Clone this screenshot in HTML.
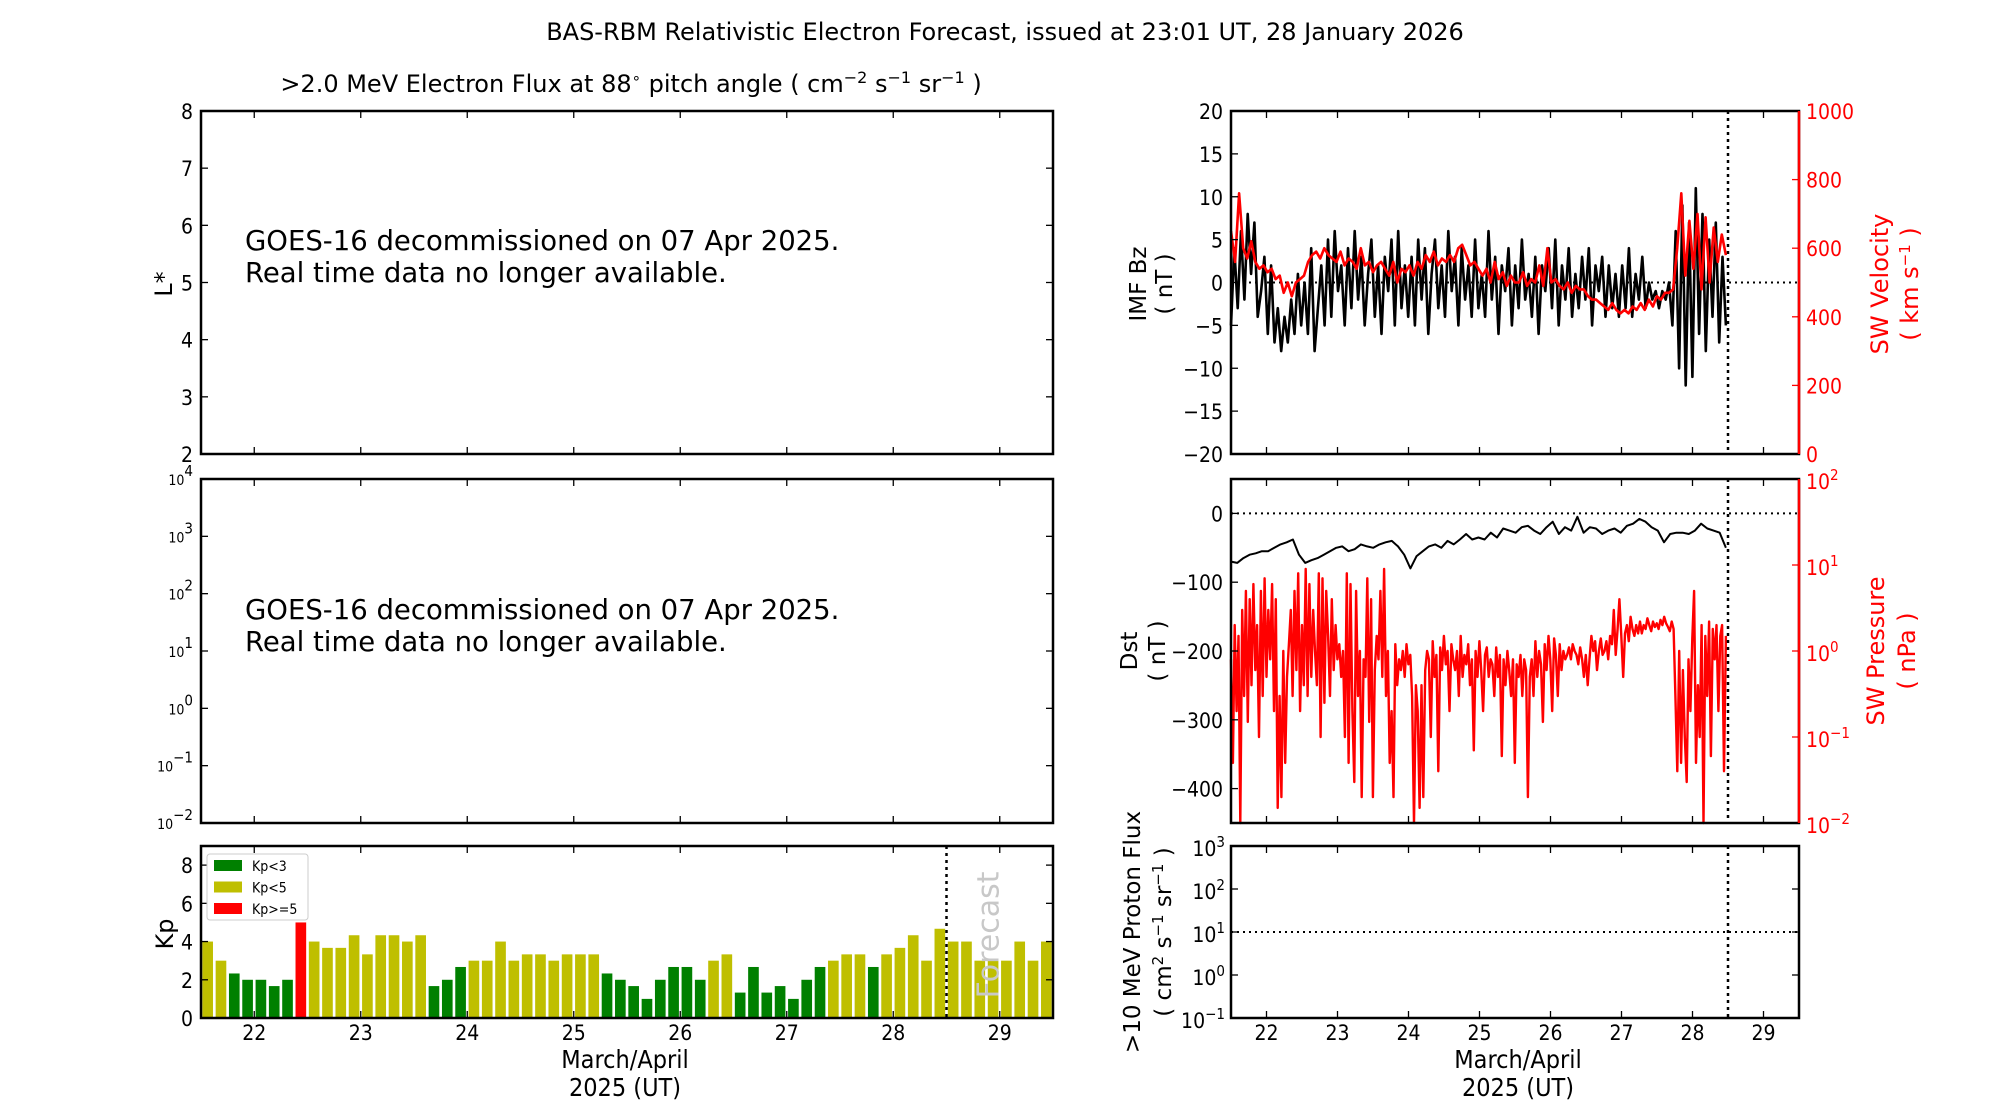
<!DOCTYPE html>
<html><head><meta charset="utf-8">
<style>
html,body{margin:0;padding:0;background:#fff;}
svg{display:block;}
.t{font-family:"DejaVu Sans","Liberation Sans",sans-serif;}
.n{font-family:"Liberation Sans Narrow","DejaVu Sans Condensed","Liberation Sans",sans-serif;font-size:21px;}
</style></head>
<body>
<svg id="fig" width="2000" height="1100" viewBox="0 0 2000 1100" xmlns="http://www.w3.org/2000/svg">
<text class="t" x="1005" y="40" font-size="24" text-anchor="middle">BAS-RBM Relativistic Electron Forecast, issued at 23:01 UT, 28 January 2026</text>
<text class="t" x="631" y="92" font-size="24" text-anchor="middle">&gt;2.0 MeV Electron Flux at 88<tspan dy="-9" font-size="15">∘</tspan><tspan dy="9"> pitch angle ( cm</tspan><tspan dy="-9" font-size="16">−2</tspan><tspan dy="9"> s</tspan><tspan dy="-9" font-size="16">−1</tspan><tspan dy="9"> sr</tspan><tspan dy="-9" font-size="16">−1</tspan><tspan dy="9">  )</tspan></text>

<g id="lstar">
<text class="t" x="245" y="250" font-size="27.5">GOES-16 decommissioned on 07 Apr 2025.</text>
<text class="t" x="245" y="282" font-size="27.5">Real time data no longer available.</text>
<text class="t" transform="translate(172,284) rotate(-90)" font-size="24" text-anchor="middle">L*</text>
</g>
<g id="flux">
<text class="t" x="245" y="619" font-size="27.5">GOES-16 decommissioned on 07 Apr 2025.</text>
<text class="t" x="245" y="651" font-size="27.5">Real time data no longer available.</text>
</g>
<g id="kp">
<text class="t" transform="translate(173,934) rotate(-90)" font-size="24" text-anchor="middle">Kp</text>
</g>
<text class="n" x="625" y="1068" text-anchor="middle" style="font-size:25px">March/April</text>
<text class="n" x="625" y="1096" text-anchor="middle" style="font-size:25px">2025 (UT)</text>
<text class="n" x="1518" y="1068" text-anchor="middle" style="font-size:25px">March/April</text>
<text class="n" x="1518" y="1096" text-anchor="middle" style="font-size:25px">2025 (UT)</text>

<text class="t" transform="translate(1146,284) rotate(-90)" font-size="23" text-anchor="middle">IMF Bz</text>
<text class="t" transform="translate(1172,284) rotate(-90)" font-size="23" text-anchor="middle">( nT )</text>
<text class="t" transform="translate(1888,284) rotate(-90)" font-size="24" text-anchor="middle" fill="#ff0000">SW Velocity</text>
<text class="t" transform="translate(1918,284) rotate(-90)" font-size="24" text-anchor="middle" fill="#ff0000">( km s<tspan dy="-8" font-size="15">−1</tspan><tspan dy="8"> )</tspan></text>
<text class="t" transform="translate(1137,651) rotate(-90)" font-size="23" text-anchor="middle">Dst</text>
<text class="t" transform="translate(1165,651) rotate(-90)" font-size="23" text-anchor="middle">( nT )</text>
<text class="t" transform="translate(1884,651) rotate(-90)" font-size="24" text-anchor="middle" fill="#ff0000">SW Pressure</text>
<text class="t" transform="translate(1915,651) rotate(-90)" font-size="24" text-anchor="middle" fill="#ff0000">( nPa )</text>
<text class="t" transform="translate(1140,932) rotate(-90)" font-size="23" text-anchor="middle">&gt;10 MeV Proton Flux</text>
<text class="t" transform="translate(1171,932) rotate(-90)" font-size="23" text-anchor="middle">( cm<tspan dy="-8" font-size="15">2</tspan><tspan dy="8"> s</tspan><tspan dy="-8" font-size="15">−1</tspan><tspan dy="8"> sr</tspan><tspan dy="-8" font-size="15">−1</tspan><tspan dy="8"> )</tspan></text>
<g id="marks"></g>
</svg>
<script>
// ---- data ----
const days = [22,23,24,25,26,27,28,29];
const kpValues = [4,3,2.33,2,2,1.67,2,5,4,3.67,3.67,4.33,3.33,4.33,4.33,4,4.33,1.67,2,2.67,3,3,4,3,3.33,3.33,3,3.33,3.33,3.33,2.33,2,1.67,1,2,2.67,2.67,2,3,3.33,1.33,2.67,1.33,1.67,1,2,2.67,3,3.33,3.33,2.67,3.33,3.67,4.33,3,4.67,4,4,3,3,3,4,3,4];
const kpTicks = [0,2,4,6,8];
const lstarTicks = [2,3,4,5,6,7,8];
const fluxExps = [-2,-1,0,1,2,3,4];
const bzTicks = [-20,-15,-10,-5,0,5,10,15,20];
const velTicks = [0,200,400,600,800,1000];
const dstTicks = [-400,-300,-200,-100,0];
const presExps = [-2,-1,0,1,2];
const protonExps = [-1,0,1,2,3];
const dataStart = 21.5, dataEnd = 28.47, nowcast = 28.5;
const bzValues = [-5,4,-3,6,-2,8,1,7,-4,
 -1,3,-6,2,-7,-3,-8,-4,-7,-2,-6,1,-5,
 0,-6,4,-8,-3,2,-5,5,-4,6,-1,
 2,-5,4,-3,6,-2,3,-5,1,5,-4,2,-6,3,-1,5,-5,6,-3,2,-4,
 3,-5,5,-2,4,-6,1,5,-3,2,-4,6,-1,3,-5,4,-2,2,-4,5,-3,
 1,-4,6,-2,3,-6,2,-1,4,-5,2,-3,5,-2,1,-4,3,-6,2,-1,4,
 -3,5,-5,2,-2,4,-4,1,-3,3,-2,4,-5,2,-1,3,-4,2,-3,1,-4,
 2,-3,4,-4,1,-2,3,-3,0,-2,-1,-3,-1,-2,0,
 -5,6,-10,9,-12,7,-11,11,-6,
 8,-8,5,-4,7,-7,3,-5];
const velValues = [650,560,760,600,570,620,560,540,550,
 530,540,510,520,470,500,460,500,510,
 520,560,580,590,570,600,580,570,560,
 590,550,570,560,540,600,550,560,530,550,560,540,520,560,500,540,530,
 550,520,560,540,580,560,590,550,570,
 560,580,560,600,610,580,550,560,540,
 520,540,500,560,510,530,490,520,500,
 500,530,490,510,500,550,490,600,500,
 510,490,480,500,470,490,480,480,460,
 450,450,440,430,420,440,420,410,420,
 410,430,420,440,420,450,430,460,450,470,470,480,
 600,760,520,680,540,700,480,
 690,500,660,560,640,580];
const dstValues = [-70,-72,-65,-60,-58,-55,-55,-50,-45,-42,-38,-60,-72,-68,-65,-60,-55,-50,-48,-55,-52,-45,-48,-50,-45,-42,-40,-48,-60,-80,-62,-55,-48,-45,-50,-40,-45,-38,-30,-38,-35,-38,-28,-35,-22,-25,-28,-20,-18,-25,-30,-20,-12,-30,-20,-25,-5,-28,-20,-22,-30,-25,-22,-28,-18,-15,-8,-12,-20,-25,-42,-30,-28,-28,-30,-25,-15,-22,-25,-28,-50];
const presValues = [0.8,0.05,2,0.2,1.5,0.01,3,0.3,5,0.15,4,0.4,6,0.6,2,0.1,5,0.3,7,0.5,
 3,0.8,6,0.2,4,0.015,0.3,0.02,1,0.05,0.5,1.2,3,0.3,5,0.6,8,0.2,2,0.4,
 9,0.3,6,0.5,3,1,0.4,8,0.1,7,0.25,5,1.5,0.3,4,0.6,2,0.8,1.2,0.5,
 1,0.1,8,0.05,6,0.2,0.03,5,0.3,1,0.02,0.8,0.5,7,0.15,4,0.02,0.6,1.5,0.8,
 5,0.5,9,0.3,1,0.05,0.2,0.02,1.2,0.4,0.8,0.6,1,0.5,1.2,0.7,0.9,0.3,0.01,0.4,
 0.2,0.015,0.4,0.02,0.6,1,0.8,0.1,1.3,0.5,0.9,0.04,1.1,0.6,1.5,0.7,1,0.2,1.2,0.8,
 0.6,1,0.3,1.5,0.5,0.9,0.7,1.2,0.4,0.8,0.07,1,0.5,1.3,0.6,0.2,0.9,1.1,0.5,0.8,
 0.7,0.3,1.1,0.5,0.9,0.06,0.8,0.4,1,0.6,0.3,0.8,0.05,0.7,0.5,0.9,0.3,0.8,0.6,0.02,
 0.5,0.8,0.3,1.3,0.5,1,0.7,0.15,1.2,0.6,1.5,0.8,0.2,1.4,0.9,0.3,1.2,0.6,1,0.8,
 0.9,1.1,0.8,1.2,1,0.9,0.7,1.1,0.8,0.5,0.9,0.4,0.8,1.5,1,1.3,0.6,1,1.4,0.9,
 1,1.3,0.8,1.5,1.2,3,0.9,1.8,4,1.5,0.5,1.6,2,1.3,2.5,1.8,1.5,2,1.6,2.2,
 1.6,2,1.8,2.4,2,1.7,2.2,1.9,2.1,1.8,2.3,2,2.5,2.1,1.9,1.7,
 2.2,1.8,0.3,0.04,1,0.05,0.6,0.1,0.03,0.8,0.2,1.4,5,0.05,0.4,0.1,
 2,0.01,1.5,0.3,2.2,0.06,1.8,0.8,2,0.2,1.5,2,0.04,1.5];

// ---- layout ----
const NS='http://www.w3.org/2000/svg';
const marks=document.getElementById('marks');
const LX0=201,LX1=1053,RX0=1231,RX1=1799;
const P1=[111,454],P2=[479,823],P3=[846,1018];
function lin(d0,d1,r0,r1){return v=>r0+(v-d0)/(d1-d0)*(r1-r0);}
function logs(e0,e1,r0,r1){return v=>r0+(Math.log10(Math.max(v,1e-9))-e0)/(e1-e0)*(r1-r0);}
const xL=lin(21.5,29.5,LX0,LX1), xR=lin(21.5,29.5,RX0,RX1);
function mk(tag,attrs){const e=document.createElementNS(NS,tag);for(const k in attrs)e.setAttribute(k,attrs[k]);marks.appendChild(e);return e;}
function tlabel(x,y,txt,anchor,color,exp){
  const e=mk('text',{x:x,y:y,'text-anchor':anchor,fill:color||'#000',class:'n'});
  
  
  if(exp===undefined){e.textContent=txt;}
  else{const a=document.createElementNS(NS,'tspan');a.textContent='10';e.appendChild(a);
    const b=document.createElementNS(NS,'tspan');b.setAttribute('dy','-9');b.setAttribute('font-size','15');b.textContent=exp<0?'−'+(-exp):String(exp);e.appendChild(b);}
  return e;
}
function tick(x1,y1,x2,y2,color){
  const e=mk('line',{x1:x1,y1:y1,x2:x2,y2:y2,stroke:color||'#000','stroke-width':1.3});
  
  
}
function frame(x0,x1,y0,y1,name,rightColor){
  const e=mk('rect',{x:x0,y:y0,width:x1-x0,height:y1-y0,fill:'none',stroke:'#000','stroke-width':2.5});
  
  
  if(rightColor){const r=mk('line',{x1:x1,y1:y0,x2:x1,y2:y1,stroke:rightColor,'stroke-width':2.5});
    
    }
}
function xticks(xs,y0,y1,labels){
  days.forEach(d=>{const x=xs(d);tick(x,y1,x,y1-7);tick(x,y0,x,y0+7);
    if(labels)tlabel(x,y1+22,String(d),'middle');});
}
function vline(x,y0,y1,name){
  const e=mk('line',{x1:x,y1:y0,x2:x,y2:y1,stroke:'#000','stroke-width':2.5,'stroke-dasharray':'3,4'});
  
  
}
function hline(x0,x1,y,name){
  const e=mk('line',{x1:x0,y1:y,x2:x1,y2:y,stroke:'#000','stroke-width':2,'stroke-dasharray':'2,4'});
  
  
}
function series(vals,xs,ys,color,width,name){
  const n=vals.length;let d='';
  vals.forEach((v,i)=>{const t=dataStart+(dataEnd-dataStart)*i/(n-1);d+=(i?'L':'M')+xs(t).toFixed(1)+','+ys(v).toFixed(1);});
  const e=mk('path',{d:d,fill:'none',stroke:color,'stroke-width':width,'stroke-linejoin':'round'});
  
  
}

// L* panel
const yL=lin(2,8,P1[1],P1[0]);
lstarTicks.forEach(v=>{const y=yL(v);tick(LX0,y,LX0+7,y);tick(LX1,y,LX1-7,y);tlabel(LX0-8,y+8,String(v),'end');});
xticks(xL,P1[0],P1[1],false);
frame(LX0,LX1,P1[0],P1[1],'lstar-axes');
// flux panel
const yF=logs(-2,4,P2[1],P2[0]);
fluxExps.forEach(e=>{const y=yF(Math.pow(10,e));tick(LX0,y,LX0+7,y);tick(LX1,y,LX1-7,y);
  const t=tlabel(LX0-8,y+6,'','end','#000',e);t.setAttribute('style','font-size:14px');});
xticks(xL,P2[0],P2[1],false);
frame(LX0,LX1,P2[0],P2[1],'flux-axes');
// Kp panel
const yK=lin(0,9,P3[1],P3[0]);
const kpColor=v=>v>=5?'#ff0000':(v>=3?'#bfbf00':'#008000');
const bw=0.125*(LX1-LX0)/8*0.8;
kpValues.forEach((v,i)=>{const tc=dataStart+(i+0.5)*0.125;const x=xL(tc);
  const r=mk('rect',{x:x-bw/2,y:yK(v),width:bw,height:yK(0)-yK(v),fill:kpColor(v)});
  
  });
kpTicks.forEach(v=>{const y=yK(v);tick(LX0,y,LX0+7,y);tick(LX1,y,LX1-7,y);tlabel(LX0-8,y+8,String(v),'end');});
xticks(xL,P3[0],P3[1],true);
vline(xL(nowcast),P3[0],P3[1],'kp-nowcast-line');
{const f=mk('text',{transform:'translate('+(xL(nowcast)+52)+',935) rotate(-90)','font-size':'30',fill:'#c8c8c8',class:'t','text-anchor':'middle'});


f.textContent='Forecast';}
frame(LX0,LX1,P3[0],P3[1],'kp-axes');
{const lg=mk('rect',{x:207,y:854,width:101,height:66,fill:'#fff',stroke:'#ccc','stroke-width':1,rx:3});


const legLabels=['Kp<3','Kp<5','Kp>=5'],legCols=['#008000','#bfbf00','#ff0000'];
legLabels.forEach((l,i)=>{const y=860+i*21.5;
  const s=mk('rect',{x:214,y:y,width:28,height:11,fill:legCols[i]});
  
  
  const t=mk('text',{x:252,y:y+11,class:'n',style:'font-size:14px'});
  
  
  t.textContent=l;});}

// IMF Bz / velocity
const yBz=lin(-20,20,P1[1],P1[0]), yV=lin(0,1000,P1[1],P1[0]);
hline(RX0,RX1,yBz(0),'bz-zero-line');
series(bzValues,xR,yBz,'#000',2.6,'imf-bz-line');
series(velValues,xR,yV,'#ff0000',2.6,'sw-velocity-line');
bzTicks.forEach(v=>{const y=yBz(v);tick(RX0,y,RX0+7,y);tlabel(RX0-8,y+8,v<0?'−'+(-v):String(v),'end');});
velTicks.forEach(v=>{const y=yV(v);tick(RX1,y,RX1-7,y,'#ff0000');tlabel(RX1+7,y+8,String(v),'start','#ff0000');});
xticks(xR,P1[0],P1[1],false);
vline(xR(nowcast),P1[0],P1[1],'bz-nowcast-line');
frame(RX0,RX1,P1[0],P1[1],'imf-axes','#ff0000');
// Dst / pressure
const yD=lin(-450,50,P2[1],P2[0]), yP=logs(-2,2,P2[1],P2[0]);
hline(RX0,RX1,yD(0),'dst-zero-line');
series(presValues,xR,yP,'#ff0000',2.4,'sw-pressure-line');
series(dstValues,xR,yD,'#000',2,'dst-line');
dstTicks.forEach(v=>{const y=yD(v);tick(RX0,y,RX0+7,y);tlabel(RX0-8,y+8,v<0?'−'+(-v):String(v),'end');});
presExps.forEach(e=>{const y=yP(Math.pow(10,e));tick(RX1,y,RX1-7,y,'#ff0000');tlabel(RX1+7,y+10,'','start','#ff0000',e);});
xticks(xR,P2[0],P2[1],false);
vline(xR(nowcast),P2[0],P2[1],'dst-nowcast-line');
frame(RX0,RX1,P2[0],P2[1],'dst-axes','#ff0000');
// proton
const yPr=logs(-1,3,P3[1],P3[0]);
hline(RX0,RX1,yPr(10),'proton-threshold-line');
protonExps.forEach(e=>{const y=yPr(Math.pow(10,e));tick(RX0,y,RX0+7,y);tick(RX1,y,RX1-7,y);tlabel(RX0-6,y+10,'','end','#000',e);});
xticks(xR,P3[0],P3[1],true);
vline(xR(nowcast),P3[0],P3[1],'proton-nowcast-line');
frame(RX0,RX1,P3[0],P3[1],'proton-axes');
</script>
</body></html>
